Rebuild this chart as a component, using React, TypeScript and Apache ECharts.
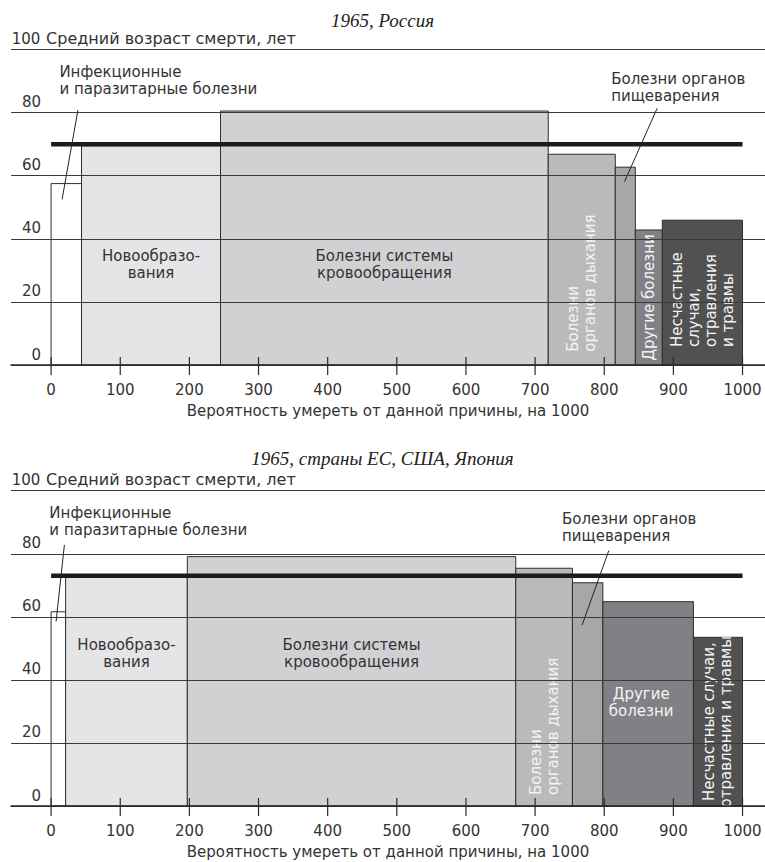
import React, { useEffect, useRef } from "react";
import * as echarts from "echarts";

// ---------- DATA ----------
const causes = [
  "Инфекционные и паразитарные болезни",
  "Новообразования",
  "Болезни системы кровообращения",
  "Болезни органов дыхания",
  "Болезни органов пищеварения",
  "Другие болезни",
  "Несчастные случаи, отравления и травмы",
];

// probability of dying from the cause, per 1000 (bar widths)
const russiaProb = [44, 201, 474, 97, 29, 39, 116];
// average age at death, years (bar heights)
const russiaAge = [57.5, 69.5, 80.5, 66.8, 62.7, 42.8, 45.9];
const russiaMeanAge = 70;

const westProb = [21, 176, 475, 82, 44, 131, 71];
const westAge = [61.6, 72.8, 79.1, 75.4, 70.8, 64.8, 53.5];
const westMeanAge = 73;

const xTicks = [0, 100, 200, 300, 400, 500, 600, 700, 800, 900, 1000];
const yTicks = [0, 20, 40, 60, 80, 100];

const titleRussia = "1965, Россия";
const titleWest = "1965, страны ЕС, США, Япония";
const yAxisTitle = "Средний возраст смерти, лет";
const xAxisTitle = "Вероятность умереть от данной причины, на 1000";

const russiaLabels = [
  "Инфекционные\nи паразитарные болезни",
  "Новообразо-\nвания",
  "Болезни системы\nкровообращения",
  "Болезни\nорганов дыхания",
  "Болезни органов\nпищеварения",
  "Другие болезни",
  "Несчастные\nслучаи,\nотравления\nи травмы",
];
const westLabels = [
  "Инфекционные\nи паразитарные болезни",
  "Новообразо-\nвания",
  "Болезни системы\nкровообращения",
  "Болезни\nорганов дыхания",
  "Болезни органов\nпищеварения",
  "Другие\nболезни",
  "Несчастные случаи,\nотравления и травмы",
];

// ---------- STYLE ----------
const FONT = '"DejaVu Sans", "Liberation Sans", sans-serif';
const FS = 15;
const TEXT = "#333333";
const LIGHT = "#f4f4f4";
const AXIS = "#2a2a2a";
const barColors = ["#ffffff", "#e5e5e7", "#d1d1d3", "#b9babc", "#a6a7a9", "#808184", "#505153"];

type Layout = {
  kind: "h" | "v" | "callout";
  y?: number;
  mode?: "bottom" | "middle";
  light?: boolean;
  dx?: number;
  tx?: number;
  ty?: number;
  l?: [number, number, number, number];
};

const russiaLayout: Layout[] = [
  { kind: "callout", tx: 12, ty: 90.3, l: [38.8, 80.8, 15.9, 52.5] },
  { kind: "h", y: 32 },
  { kind: "h", y: 32 },
  { kind: "v", mode: "bottom", y: 4.2, light: true },
  { kind: "callout", tx: 810, ty: 87.8, l: [876.6, 81.4, 829.3, 58.1] },
  { kind: "v", mode: "middle", light: true },
  { kind: "v", mode: "bottom", y: 5.7, light: true },
];
const westLayout: Layout[] = [
  { kind: "callout", tx: -2.5, ty: 90.2, l: [19.2, 82.8, 7.2, 58.5] },
  { kind: "h", y: 48.4 },
  { kind: "h", y: 48.4 },
  { kind: "v", mode: "bottom", y: 3.5, light: true },
  { kind: "callout", tx: 739, ty: 88.3, l: [806.6, 81, 768, 57.4] },
  { kind: "h", y: 32.8, light: true, dx: -7 },
  { kind: "v", mode: "middle", light: true },
];

function buildData(prob: number[], age: number[]) {
  const out: number[][] = [];
  let acc = 0;
  prob.forEach((p, i) => {
    out.push([acc, acc + p, age[i], i]);
    acc += p;
  });
  return out;
}

function makeRenderItem(labels: string[], layout: Layout[]) {
  return (params: any, api: any) => {
    const i = params.dataIndex;
    const x0 = api.value(0);
    const x1 = api.value(1);
    const age = api.value(2);
    const p0 = api.coord([x0, 0]);
    const p1 = api.coord([x1, age]);
    const children: any[] = [
      {
        type: "rect",
        shape: { x: p0[0], y: p1[1], width: p1[0] - p0[0], height: p0[1] - p1[1] },
        style: { fill: barColors[i], stroke: "#2e2e2e", lineWidth: 1 },
      },
    ];
    const lay = layout[i];
    const text = labels[i];
    const cx = (p0[0] + p1[0]) / 2 + (lay.dx || 0);
    const base = { fontFamily: FONT, fontSize: FS, lineHeight: 17 };
    if (lay.kind === "h") {
      const py = api.coord([x0, lay.y])[1];
      children.push({
        type: "text",
        x: cx,
        y: py,
        style: { ...base, text, fill: lay.light ? LIGHT : TEXT, align: "center", verticalAlign: "middle" },
      });
    } else if (lay.kind === "v") {
      let py: number;
      let align = "left";
      if (lay.mode === "middle") {
        py = (p0[1] + p1[1]) / 2;
        align = "center";
      } else {
        py = api.coord([x0, lay.y])[1];
      }
      children.push({
        type: "text",
        x: cx,
        y: py,
        rotation: Math.PI / 2,
        style: { ...base, text, fill: lay.light ? LIGHT : TEXT, align, verticalAlign: "middle" },
      });
    } else {
      const tp = api.coord([lay.tx, lay.ty]);
      const a = api.coord([lay.l![0], lay.l![1]]);
      const b = api.coord([lay.l![2], lay.l![3]]);
      children.push({
        type: "line",
        shape: { x1: a[0], y1: a[1], x2: b[0], y2: b[1] },
        style: { stroke: "#222", lineWidth: 1 },
      });
      children.push({
        type: "text",
        x: tp[0],
        y: tp[1],
        style: { ...base, text, fill: TEXT, align: "left", verticalAlign: "middle" },
      });
    }
    return { type: "group", children };
  };
}

// tick marks crossing the baseline (8px up, 10px down)
function tickSeries(xIdx: number, yIdx: number) {
  return {
    type: "custom",
    xAxisIndex: xIdx,
    yAxisIndex: yIdx,
    z: 7,
    silent: true,
    encode: { x: 0, y: 1 },
    data: xTicks.map((v) => [v, 0]),
    renderItem: (params: any, api: any) => {
      const p = api.coord([api.value(0), 0]);
      return {
        type: "line",
        shape: { x1: p[0], y1: p[1] - 8, x2: p[0], y2: p[1] + 10 },
        style: { stroke: AXIS, lineWidth: 1.2 },
      };
    },
  };
}

const X_MIN = -58;
const X_MAX = 1032.5;

function xAxis(gridIndex: number) {
  return {
    type: "value",
    gridIndex,
    min: X_MIN,
    max: X_MAX,
    position: "bottom",
    splitLine: { show: false },
    z: 6,
    name: xAxisTitle,
    nameLocation: "middle",
    nameGap: 38,
    nameTextStyle: { fontFamily: FONT, fontSize: FS, color: TEXT },
    axisLine: { show: true, lineStyle: { color: AXIS, width: 1.5 } },
    axisTick: { show: false },
    axisLabel: {
      show: true,
      customValues: xTicks,
      margin: 17,
      fontFamily: FONT,
      fontSize: FS,
      color: TEXT,
      formatter: (v: number) => String(v),
    },
  };
}

function yAxis(gridIndex: number) {
  return {
    type: "value",
    gridIndex,
    min: 0,
    max: 100,
    interval: 20,
    z: 5,
    axisLine: { show: false },
    axisTick: { show: false },
    splitLine: { show: true, lineStyle: { color: "#3a3a3a", width: 1 } },
    axisLabel: {
      show: true,
      inside: true,
      margin: 0,
      showMinLabel: true,
      showMaxLabel: true,
      verticalAlign: "bottom",
      padding: [0, 0, 3, 0],
      customValues: yTicks,
      formatter: (v: number) => (v === 100 ? `{n|${v}}{t| ${yAxisTitle}}` : `{n|${v}}`),
      rich: {
        n: { width: 30, align: "right", fontFamily: FONT, fontSize: FS, color: TEXT },
        t: { fontFamily: FONT, fontSize: 16, color: TEXT },
      },
    },
  };
}

function meanLine(xIdx: number, yIdx: number, value: number) {
  return {
    type: "line",
    xAxisIndex: xIdx,
    yAxisIndex: yIdx,
    data: [
      [xTicks[0], value],
      [xTicks[xTicks.length - 1], value],
    ],
    symbol: "none",
    silent: true,
    z: 10,
    lineStyle: { color: "#1c1c1c", width: 4.5 },
  };
}

export default function App() {
  const ref = useRef<HTMLDivElement>(null);
  useEffect(() => {
    if (!ref.current) return;
    const chart = echarts.init(ref.current, null, { renderer: "svg" });
    const titleStyle = {
      fontFamily: '"Liberation Serif", "DejaVu Serif", serif',
      fontStyle: "italic",
      fontWeight: "normal",
      fontSize: 19,
      color: "#222",
    };
    chart.setOption({
      animation: false,
      backgroundColor: "#ffffff",
      title: [
        { text: titleRussia, left: "center", top: 6, textStyle: titleStyle },
        { text: titleWest, left: "center", top: 444, textStyle: titleStyle },
      ],
      grid: [
        { left: 11, right: 0, top: 49.5, height: 315.5 },
        { left: 11, right: 0, top: 490.7, height: 315.3 },
      ],
      xAxis: [xAxis(0), xAxis(1)],
      yAxis: [yAxis(0), yAxis(1)],
      series: [
        {
          type: "custom",
          name: "Россия",
          xAxisIndex: 0,
          yAxisIndex: 0,
          z: 2,
          renderItem: makeRenderItem(russiaLabels, russiaLayout),
          encode: { x: [0, 1], y: 2 },
          data: buildData(russiaProb, russiaAge),
        },
        meanLine(0, 0, russiaMeanAge),
        tickSeries(0, 0),
        {
          type: "custom",
          name: "Запад",
          xAxisIndex: 1,
          yAxisIndex: 1,
          z: 2,
          renderItem: makeRenderItem(westLabels, westLayout),
          encode: { x: [0, 1], y: 2 },
          data: buildData(westProb, westAge),
        },
        meanLine(1, 1, westMeanAge),
        tickSeries(1, 1),
      ],
    });
    return () => chart.dispose();
  }, []);
  return (
    <div
      ref={ref}
      style={{ position: "absolute", left: 0, top: 0, width: 765, height: 862 }}
    />
  );
}
